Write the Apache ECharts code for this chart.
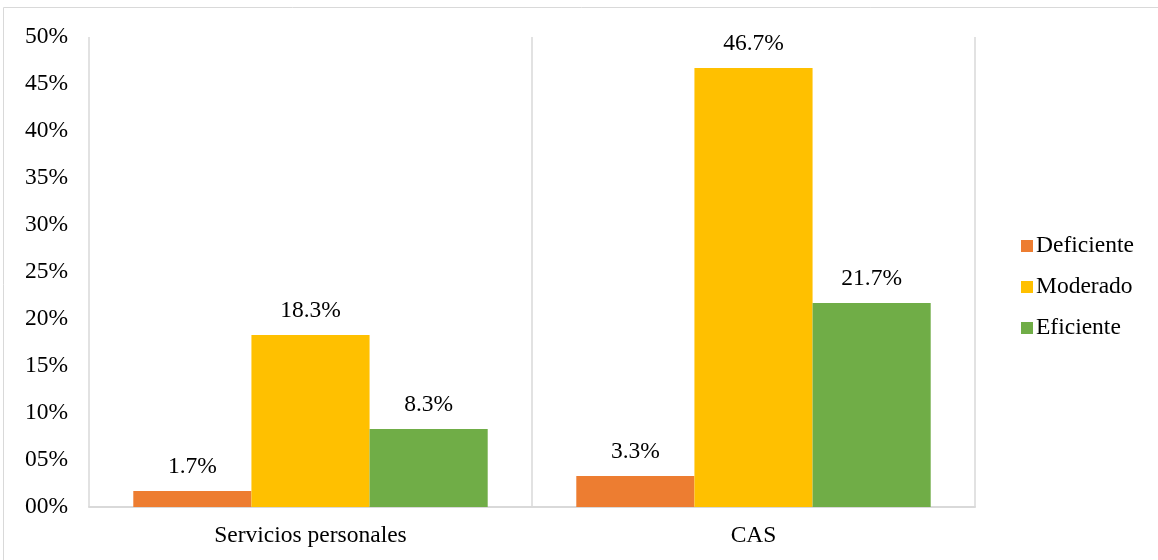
<!DOCTYPE html>
<html>
<head>
<meta charset="utf-8">
<script src="https://cdn.jsdelivr.net/npm/echarts@6/dist/echarts.min.js"></script>
<style>
  html, body { margin: 0; padding: 0; background: #ffffff; }
  #chart { width: 1158px; height: 560px; }
</style>
</head>
<body>
<div id="chart"></div>
<script>
// Régimen laboral y nivel percibido (porcentaje del personal)
const categories = ['Servicios personales', 'CAS'];
const deficiente = [1.7, 3.3];
const moderado = [18.3, 46.7];
const eficiente = [8.3, 21.7];
const seriesNames = ['Deficiente', 'Moderado', 'Eficiente'];
const yTickLabels = ['00%', '05%', '10%', '15%', '20%', '25%', '30%', '35%', '40%', '45%', '50%'];

const colors = ['#ED7D31', '#FFC000', '#70AD47'];
const font = '"Liberation Serif", "Times New Roman", serif';
const fontSize = 23.5;

const chart = echarts.init(document.getElementById('chart'));

function barSeries(name, data, color) {
  return {
    name: name,
    type: 'bar',
    data: data,
    itemStyle: { color: color },
    barGap: '0%',
    barCategoryGap: '20%',
    label: {
      show: true,
      position: 'top',
      distance: 12,
      fontFamily: font,
      fontSize: fontSize,
      color: '#000',
      formatter: p => p.value.toFixed(1) + '%'
    }
  };
}

chart.setOption({
  animation: false,
  color: colors,
  graphic: [{
    type: 'rect',
    shape: { x: 3.5, y: 7.5, width: 1170, height: 570 },
    style: { fill: 'none', stroke: '#d9d9d9', lineWidth: 1 },
    z: -1
  }],
  grid: { left: 89, right: 183, top: 37, bottom: 53 },
  legend: {
    orient: 'vertical',
    left: 1016,
    top: 229,
    itemWidth: 12,
    itemHeight: 12,
    itemGap: 17,
    icon: 'rect',
    textStyle: { fontFamily: font, fontSize: fontSize, color: '#000', padding: [0, 0, 0, -2] },
    data: seriesNames
  },
  xAxis: {
    type: 'category',
    data: categories,
    axisLine: { show: true, lineStyle: { color: '#d9d9d9', width: 2 } },
    axisTick: { show: false },
    splitLine: { show: true, lineStyle: { color: '#d9d9d9', width: 1.5 } },
    axisLabel: { fontFamily: font, fontSize: fontSize, color: '#000', margin: 17 }
  },
  yAxis: {
    type: 'value',
    min: 0,
    max: 50,
    interval: 5,
    axisLine: { show: false },
    axisTick: { show: false },
    splitLine: { show: false },
    axisLabel: {
      fontFamily: font,
      fontSize: fontSize,
      color: '#000',
      margin: 21,
      formatter: (v) => yTickLabels[Math.round(v / 5)]
    }
  },
  series: [
    barSeries(seriesNames[0], deficiente, colors[0]),
    barSeries(seriesNames[1], moderado, colors[1]),
    barSeries(seriesNames[2], eficiente, colors[2])
  ]
});
</script>
</body>
</html>
